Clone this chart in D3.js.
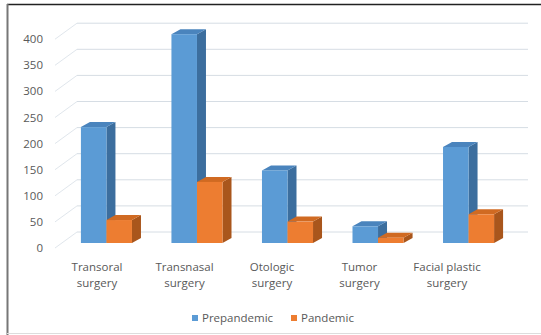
<!DOCTYPE html>
<html><head><meta charset="utf-8">
<script src="https://cdn.jsdelivr.net/npm/d3@7/dist/d3.min.js"></script>
<style>body{margin:0;background:#fff}svg{display:block}</style>
</head><body><svg id="c" width="541" height="335"></svg>
<script>
const categories = [["Transoral","surgery"],["Transnasal","surgery"],["Otologic","surgery"],["Tumor","surgery"],["Facial plastic","surgery"]];
const seriesNames = ["Prepandemic","Pandemic"];
const prepandemic = [222, 400, 139, 32, 184];
const pandemic = [44, 117, 41, 10, 55];
const yTicks = [0,50,100,150,200,250,300,350,400];

const svg = d3.select("#c");
const keys = categories.map(c => c.join(" "));
const colors = {front:["#5B9BD5","#ED7D31"], side:["#3C6E9E","#A9561C"], top:["#4A84BD","#D06A22"]};
const FONT = "Open Sans, Noto Sans, sans-serif";

// frame
svg.append("line").attr("x1",7).attr("x2",541).attr("y1",4.5).attr("y2",4.5).attr("stroke","#222").attr("stroke-width",1.5);
svg.append("line").attr("x1",7.5).attr("x2",7.5).attr("y1",4).attr("y2",335).attr("stroke","#777").attr("stroke-width",2);
svg.append("line").attr("x1",7).attr("x2",541).attr("y1",333.5).attr("y2",333.5).attr("stroke","#ddd").attr("stroke-width",1);

// scales: label plane (front), bar plane, back wall
const yFront = d3.scaleLinear().domain([0,400]).range([248,39.2]);
const yBar = d3.scaleLinear().domain([0,400]).range([243,34.2]);
const yBack = d3.scaleLinear().domain([0,400]).range([232,23.2]);

const x = d3.scaleBand().domain(keys).range([61,514]).paddingInner(0.436).paddingOuter(0.22);
const xs = d3.scaleBand().domain(seriesNames).range([0, x.bandwidth()]);
const xLab = d3.scalePoint().domain(keys).range([97,447]);

// gridlines
const g = svg.append("g");
yTicks.forEach(t => {
  g.append("line").attr("x1",55).attr("y1",yFront(t)).attr("x2",77).attr("y2",yBack(t)).attr("stroke","#E0E6EC").attr("stroke-width",1);
  g.append("line").attr("x1",77).attr("x2",528).attr("y1",yBack(t)).attr("y2",yBack(t)).attr("stroke","#D6DDE4").attr("stroke-width",1);
});

// y labels
svg.append("g").selectAll("text").data(yTicks).join("text")
  .attr("x",43).attr("y",d=>yFront(d)).attr("dy","0.35em").attr("text-anchor","end")
  .attr("font-family",FONT).attr("font-size",11.5).attr("fill","#595959")
  .text(d=>d);

// bars
const dx = 9, dy = -5;
const bars = svg.append("g");
const data = [];
keys.forEach((k,i)=>{
  data.push({k, s:0, v:prepandemic[i]});
  data.push({k, s:1, v:pandemic[i]});
});
data.forEach(d=>{
  const x0 = x(d.k) + xs(seriesNames[d.s]);
  const w = xs.bandwidth();
  const y0 = yBar(0), y1 = yBar(d.v);
  const grp = bars.append("g");
  grp.append("path").attr("d",`M${x0+w},${y1}L${x0+w+dx},${y1+dy}L${x0+w+dx},${y0+dy}L${x0+w},${y0}Z`).attr("fill",colors.side[d.s]);
  grp.append("path").attr("d",`M${x0},${y1}L${x0+dx},${y1+dy}L${x0+w+dx},${y1+dy}L${x0+w},${y1}Z`).attr("fill",colors.top[d.s]);
  grp.append("rect").attr("x",x0).attr("y",y1).attr("width",w).attr("height",y0-y1).attr("fill",colors.front[d.s]);
});

// category labels
const lab = svg.append("g").selectAll("text").data(categories).join("text")
  .attr("text-anchor","middle")
  .attr("font-family",FONT).attr("font-size",11.5).attr("fill","#595959");
lab.each(function(d){
  const t = d3.select(this);
  d.forEach((line,j)=>{
    t.append("tspan").attr("x",xLab(d.join(" "))).attr("y",267+j*16).attr("dy","0.35em").text(line);
  });
});

// legend
const leg = svg.append("g");
const legX = [192, 291];
seriesNames.forEach((n,i)=>{
  leg.append("rect").attr("x",legX[i]).attr("y",315).attr("width",6).attr("height",6).attr("fill",colors.front[i]);
  leg.append("text").attr("x",legX[i]+10).attr("y",318).attr("dy","0.35em")
    .attr("font-family",FONT).attr("font-size",11.5).attr("fill","#595959").text(n);
});
</script></body></html>
